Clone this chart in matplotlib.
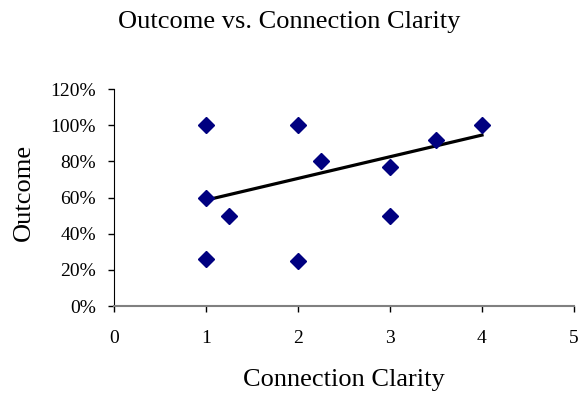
import matplotlib
matplotlib.use('Agg')
import matplotlib.pyplot as plt
from matplotlib.ticker import PercentFormatter

# data
clarity = [1, 1, 1, 1.25, 2, 2, 2.25, 3, 3, 3.5, 4]
outcome = [1.00, 0.60, 0.26, 0.50, 1.00, 0.25, 0.80, 0.77, 0.50, 0.92, 1.00]
# linear trend line endpoints as shown
trend_x = [1, 4]
trend_y = [0.586, 0.946]

plt.rcParams['font.family'] = ['Liberation Serif', 'DejaVu Serif']

fig = plt.figure(figsize=(5.81, 3.98), dpi=100)
ax = fig.add_axes([0.196, 0.231, 0.792, 0.545])

ax.plot(trend_x, trend_y, color='black', lw=2.3, zorder=2)
ax.plot(clarity, outcome, ls='none', marker='D', ms=8.5, color='#000080', zorder=3)

ax.set_xlim(0, 5)
ax.set_ylim(0, 1.2)
ax.set_xticks(range(0, 6))
ax.set_yticks([0, 0.2, 0.4, 0.6, 0.8, 1.0, 1.2])
ax.yaxis.set_major_formatter(PercentFormatter(1.0, decimals=0))

for s in ['top', 'right']:
    ax.spines[s].set_visible(False)
ax.spines['left'].set_color('black')
ax.spines['bottom'].set_color('#808080')
ax.spines['bottom'].set_linewidth(1.5)
ax.tick_params(axis='both', direction='out', length=4, width=1, labelsize=14, colors='black')
ax.tick_params(axis='x', pad=13)
ax.tick_params(axis='y', pad=9)

ax.set_xlabel('Connection Clarity', fontsize=19, labelpad=16)
ax.set_ylabel('Outcome', fontsize=19)
ax.yaxis.set_label_coords(-0.172, 0.523)
fig.text(0.497, 0.945, 'Outcome vs. Connection Clarity', fontsize=19, ha='center', va='center')

fig.savefig('out.png', dpi=100)
